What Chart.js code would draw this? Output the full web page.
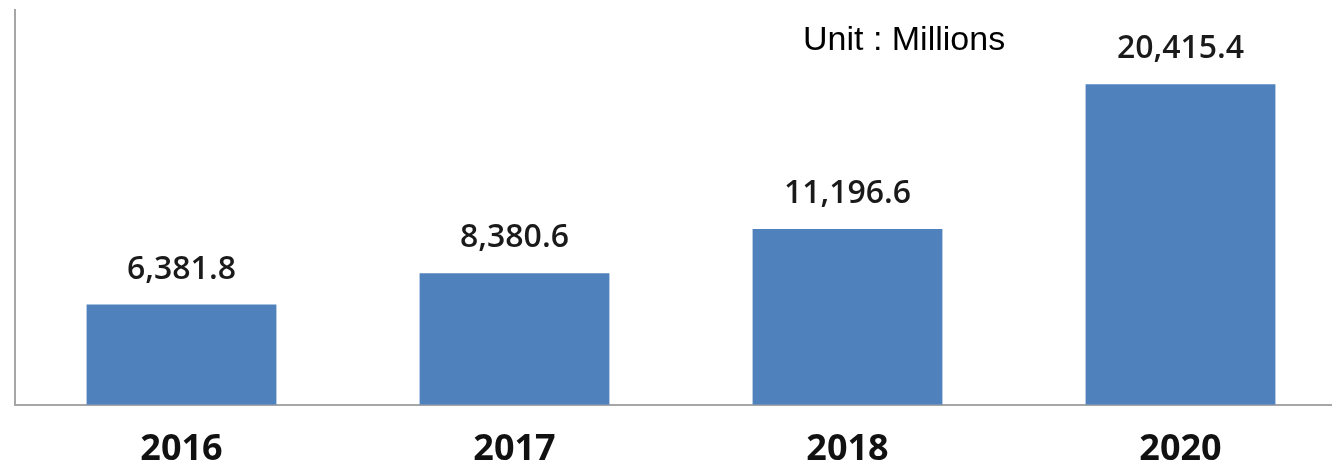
<!DOCTYPE html>
<html>
<head>
<meta charset="utf-8">
<script src="https://cdn.jsdelivr.net/npm/chart.js@4.4.1/dist/chart.umd.min.js"></script>
<style>
  html, body { margin: 0; padding: 0; background: #fff; overflow: hidden; }
  #wrap { width: 1348px; height: 494px; position: relative; }
</style>
</head>
<body>
<div id="wrap"><canvas id="chartVentas"></canvas></div>
<script>
// Datos del gráfico (unidad: millones)
const years = ['2016', '2017', '2018', '2020'];
const amounts = [6381.8, 8380.6, 11196.6, 20415.4];
const unitLabel = 'Unit : Millions';

const barColor = '#4f81bd';
const axisColor = '#a6a6a6';

// Etiquetas de valor encima de cada barra + texto de unidad
const valueLabels = {
  id: 'valueLabels',
  afterDatasetsDraw(chart) {
    const ctx = chart.ctx;
    const meta = chart.getDatasetMeta(0);
    ctx.save();
    ctx.fillStyle = '#1a1a1a';
    ctx.font = '600 32px "Open Sans"';
    ctx.textAlign = 'center';
    ctx.textBaseline = 'alphabetic';
    meta.data.forEach((bar, i) => {
      const txt = amounts[i].toLocaleString('en-US', { minimumFractionDigits: 1, maximumFractionDigits: 1 });
      ctx.fillText(txt, bar.x, bar.y - 26);
    });
    ctx.font = '34px "Liberation Sans", Arial, sans-serif';
    ctx.textAlign = 'left';
    ctx.fillStyle = '#000';
    ctx.fillText(unitLabel, 803, 50);
    ctx.restore();
  }
};

const ctxVentas = document.getElementById('chartVentas').getContext('2d');
new Chart(ctxVentas, {
  type: 'bar',
  data: {
    labels: years,
    datasets: [{
      data: amounts,
      backgroundColor: barColor,
      borderWidth: 0,
      categoryPercentage: 1,
      barPercentage: 0.57
    }]
  },
  options: {
    responsive: true,
    maintainAspectRatio: false,
    animation: false,
    layout: { padding: { left: 15, right: 1, top: 10, bottom: 0 } },
    plugins: {
      legend: { display: false },
      tooltip: { enabled: false }
    },
    scales: {
      x: {
        grid: { display: false, drawTicks: false },
        border: { display: true, color: axisColor, width: 2 },
        ticks: {
          color: '#111',
          padding: 23,
          font: { family: '"Open Sans"', size: 36, weight: 'bold' }
        }
      },
      y: {
        min: 0,
        max: 25150,
        grid: { display: false, drawTicks: false },
        border: { display: true, color: axisColor, width: 2 },
        ticks: { display: false }
      }
    }
  },
  plugins: [valueLabels]
});
</script>
</body>
</html>
